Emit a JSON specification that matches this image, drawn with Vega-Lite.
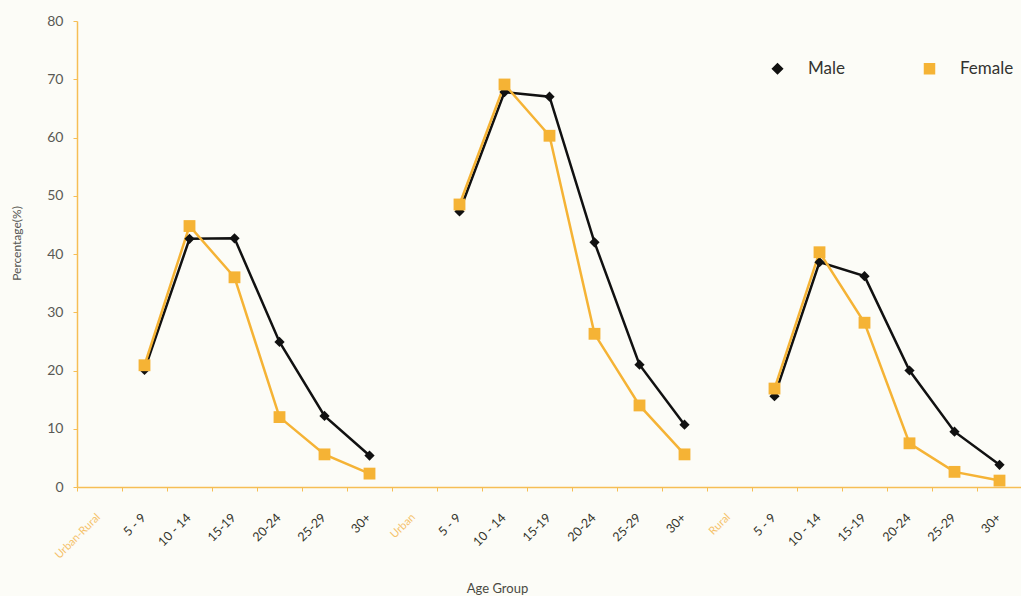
{
  "$schema": "https://vega.github.io/schema/vega-lite/v6.json",
  "width": 945,
  "height": 466,
  "autosize": {"type": "none"},
  "padding": {"left": 77, "top": 21, "right": 0, "bottom": 109},
  "background": "#FCFCF7",
  "config": {"font": "Lato", "view": {"stroke": null}},
  "data": {"values": [
    {"cat": "UR|5 - 9", "grp": "UR", "sex": "Male", "pct": 20.1, "pos": 1},
    {"cat": "UR|10 - 14", "grp": "UR", "sex": "Male", "pct": 42.6, "pos": 2},
    {"cat": "UR|15-19", "grp": "UR", "sex": "Male", "pct": 42.7, "pos": 3},
    {"cat": "UR|20-24", "grp": "UR", "sex": "Male", "pct": 24.9, "pos": 4},
    {"cat": "UR|25-29", "grp": "UR", "sex": "Male", "pct": 12.2, "pos": 5},
    {"cat": "UR|30+", "grp": "UR", "sex": "Male", "pct": 5.4, "pos": 6},
    {"cat": "U|5 - 9", "grp": "U", "sex": "Male", "pct": 47.3, "pos": 8},
    {"cat": "U|10 - 14", "grp": "U", "sex": "Male", "pct": 67.8, "pos": 9},
    {"cat": "U|15-19", "grp": "U", "sex": "Male", "pct": 67.0, "pos": 10},
    {"cat": "U|20-24", "grp": "U", "sex": "Male", "pct": 42.0, "pos": 11},
    {"cat": "U|25-29", "grp": "U", "sex": "Male", "pct": 21.0, "pos": 12},
    {"cat": "U|30+", "grp": "U", "sex": "Male", "pct": 10.7, "pos": 13},
    {"cat": "R|5 - 9", "grp": "R", "sex": "Male", "pct": 15.6, "pos": 15},
    {"cat": "R|10 - 14", "grp": "R", "sex": "Male", "pct": 38.6, "pos": 16},
    {"cat": "R|15-19", "grp": "R", "sex": "Male", "pct": 36.2, "pos": 17},
    {"cat": "R|20-24", "grp": "R", "sex": "Male", "pct": 20.0, "pos": 18},
    {"cat": "R|25-29", "grp": "R", "sex": "Male", "pct": 9.5, "pos": 19},
    {"cat": "R|30+", "grp": "R", "sex": "Male", "pct": 3.8, "pos": 20},
    {"cat": "UR|5 - 9", "grp": "UR", "sex": "Female", "pct": 20.9, "pos": 1},
    {"cat": "UR|10 - 14", "grp": "UR", "sex": "Female", "pct": 44.8, "pos": 2},
    {"cat": "UR|15-19", "grp": "UR", "sex": "Female", "pct": 36.0, "pos": 3},
    {"cat": "UR|20-24", "grp": "UR", "sex": "Female", "pct": 12.0, "pos": 4},
    {"cat": "UR|25-29", "grp": "UR", "sex": "Female", "pct": 5.6, "pos": 5},
    {"cat": "UR|30+", "grp": "UR", "sex": "Female", "pct": 2.3, "pos": 6},
    {"cat": "U|5 - 9", "grp": "U", "sex": "Female", "pct": 48.5, "pos": 8},
    {"cat": "U|10 - 14", "grp": "U", "sex": "Female", "pct": 69.1, "pos": 9},
    {"cat": "U|15-19", "grp": "U", "sex": "Female", "pct": 60.3, "pos": 10},
    {"cat": "U|20-24", "grp": "U", "sex": "Female", "pct": 26.3, "pos": 11},
    {"cat": "U|25-29", "grp": "U", "sex": "Female", "pct": 14.0, "pos": 12},
    {"cat": "U|30+", "grp": "U", "sex": "Female", "pct": 5.6, "pos": 13},
    {"cat": "R|5 - 9", "grp": "R", "sex": "Female", "pct": 16.9, "pos": 15},
    {"cat": "R|10 - 14", "grp": "R", "sex": "Female", "pct": 40.3, "pos": 16},
    {"cat": "R|15-19", "grp": "R", "sex": "Female", "pct": 28.2, "pos": 17},
    {"cat": "R|20-24", "grp": "R", "sex": "Female", "pct": 7.5, "pos": 18},
    {"cat": "R|25-29", "grp": "R", "sex": "Female", "pct": 2.6, "pos": 19},
    {"cat": "R|30+", "grp": "R", "sex": "Female", "pct": 1.1, "pos": 20}
  ]},
  "encoding": {
    "x": {
      "field": "cat",
      "type": "nominal",
      "scale": {
        "type": "point",
        "padding": 0.5,
        "domain": ["Urban-Rural", "UR|5 - 9", "UR|10 - 14", "UR|15-19", "UR|20-24", "UR|25-29", "UR|30+",
                   "Urban", "U|5 - 9", "U|10 - 14", "U|15-19", "U|20-24", "U|25-29", "U|30+",
                   "Rural", "R|5 - 9", "R|10 - 14", "R|15-19", "R|20-24", "R|25-29", "R|30+"]
      },
      "axis": {
        "title": "Age Group",
        "titleX": 420,
        "titleY": 101,
        "titleAlign": "center",
        "titleBaseline": "middle",
        "titleFontSize": 13,
        "titleFontWeight": "normal",
        "titleColor": "#4a4a42",
        "grid": false,
        "domainColor": "#F6BE55",
        "domainWidth": 1.5,
        "tickColor": "#F6BE55",
        "tickSize": 4,
        "tickOffset": -22.5,
        "labelOffset": 17,
        "labelAngle": -45,
        "labelAlign": "right",
        "labelBaseline": "top",
        "labelPadding": 20,
        "labelFontSize": {"condition": {"test": "indexof(''+datum.value,'|') < 0", "value": 11}, "value": 12.5},
        "labelColor": {"condition": {"test": "indexof(''+datum.value,'|') < 0", "value": "#F5C26B"}, "value": "#33332a"},
        "labelExpr": "indexof(''+datum.value,'|') >= 0 ? substring(''+datum.value, indexof(''+datum.value,'|')+1) : ''+datum.value"
      }
    },
    "y": {
      "field": "pct",
      "type": "quantitative",
      "scale": {"domain": [0, 80], "nice": false},
      "axis": {
        "title": "Percentage(%)",
        "titleFontSize": 12,
        "titleFontWeight": "normal",
        "titleColor": "#555550",
        "titlePadding": 23,
        "titleY": 222,
        "values": [0, 10, 20, 30, 40, 50, 60, 70, 80],
        "grid": false,
        "domainColor": "#F6BE55",
        "domainWidth": 1.5,
        "tickColor": "#F6BE55",
        "tickSize": 4,
        "labelFontSize": 14,
        "labelColor": "#595955",
        "labelPadding": 10
      }
    }
  },
  "layer": [
    {
      "mark": {"type": "line", "strokeWidth": 2.5},
      "encoding": {
        "color": {
          "field": "sex",
          "type": "nominal",
          "scale": {"domain": ["Male", "Female"], "range": ["#111111", "#F5B335"]},
          "legend": {
            "title": null,
            "orient": "none",
            "legendX": 692,
            "legendY": 39,
            "direction": "horizontal",
            "padding": 0,
            "labelFontSize": 17,
            "labelColor": "#333330",
            "labelOffset": 22,
            "columnPadding": 76,
            "symbolSize": 100
          }
        },
        "detail": {"field": "grp", "type": "nominal"},
        "order": {"field": "pos", "type": "quantitative"}
      }
    },
    {
      "mark": {"type": "point", "filled": true, "opacity": 1},
      "encoding": {
        "color": {
          "field": "sex",
          "type": "nominal",
          "scale": {"domain": ["Male", "Female"], "range": ["#111111", "#F5B335"]},
          "legend": {
            "title": null,
            "orient": "none",
            "legendX": 692,
            "legendY": 39,
            "direction": "horizontal",
            "padding": 0,
            "labelFontSize": 17,
            "labelColor": "#333330",
            "labelOffset": 22,
            "columnPadding": 76,
            "symbolSize": 100
          }
        },
        "shape": {
          "field": "sex",
          "type": "nominal",
          "scale": {"domain": ["Male", "Female"], "range": ["diamond", "square"]},
          "legend": {
            "title": null,
            "orient": "none",
            "legendX": 692,
            "legendY": 39,
            "direction": "horizontal",
            "padding": 0,
            "labelFontSize": 17,
            "labelColor": "#333330",
            "labelOffset": 22,
            "columnPadding": 76,
            "symbolSize": 100
          }
        },
        "size": {"condition": {"test": "datum.sex == 'Female'", "value": 140}, "value": 105}
      }
    }
  ]
}
